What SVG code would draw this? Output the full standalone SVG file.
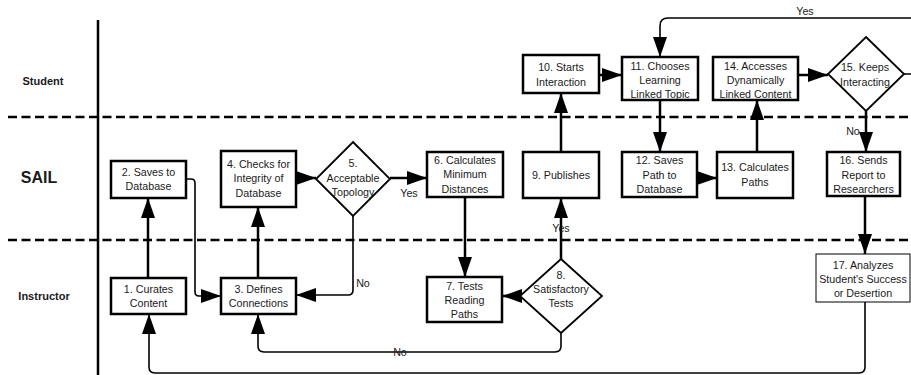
<svg xmlns="http://www.w3.org/2000/svg" width="911" height="375" viewBox="0 0 911 375">
<style>
text{font-family:"Liberation Sans",Arial,sans-serif;font-size:10.7px;fill:#1a1a1a;text-anchor:middle}
.lane{font-weight:bold;font-size:11px}
.big{font-weight:bold;font-size:16px}
.box{fill:#fff;stroke:#000;stroke-width:2.5}
.thin{fill:#fff;stroke:#000;stroke-width:1}
.dia{fill:#fff;stroke:#000;stroke-width:1.8}
.c{fill:none;stroke:#000;stroke-width:2.5;marker-end:url(#ah)}
.ct{fill:none;stroke:#000;stroke-width:1.6;marker-end:url(#ah)}
.cn{fill:none;stroke:#000;stroke-width:1.8}
.dash{stroke:#000;stroke-width:2.5;stroke-dasharray:9 4.5}
</style>
<defs>
<marker id="ah" markerUnits="userSpaceOnUse" markerWidth="20" markerHeight="14" refX="20" refY="7" orient="auto">
<path d="M0,0 L20,7 L0,14 z" fill="#000"/>
</marker>
</defs>
<rect width="911" height="375" fill="#fff"/>
<g id="lanes">
<line x1="98" y1="20" x2="98" y2="375" stroke="#000" stroke-width="2.5"/>
<line class="dash" x1="8" y1="117" x2="911" y2="117"/>
<line class="dash" x1="8" y1="240" x2="911" y2="240"/>
<text class="lane" x="43" y="85">Student</text>
<text class="big" x="39" y="183">SAIL</text>
<text class="lane" x="44" y="300">Instructor</text>
</g>
<g id="connectors">
<path class="c" d="M148,278 V198"/>
<path class="ct" d="M186,179 H191 Q195,179 195,183 V292 Q195,296 199,296 H221"/>
<path class="c" d="M258,278 V207"/>
<path class="c" d="M296,178 H316"/>
<path class="c" d="M390,178 H427"/>
<path class="ct" d="M353,216 V290 Q353,295 348,295 H296"/>
<path class="c" d="M465,197 V277"/>
<path class="c" d="M520,296 H502"/>
<path class="c" d="M561,259 V198"/>
<path class="ct" d="M561,333 V346 Q561,352 555,352 H264 Q258,352 258,346 V314"/>
<path class="c" d="M561,152 V93"/>
<path class="c" d="M599,75 H622"/>
<path class="c" d="M660,100 V152"/>
<path class="c" d="M697,178 H717"/>
<path class="c" d="M757,152 V100"/>
<path class="c" d="M798,75 H828"/>
<path class="ct" d="M904,74 H925 V18 H668 Q660,18 660,26 V57"/>
<path class="c" d="M866,111 V152"/>
<path class="c" d="M865,196 V254"/>
<path class="ct" d="M865,302 V367 Q865,373 859,373 H155 Q149,373 149,367 V314"/>
<text x="409" y="197">Yes</text>
<text x="561" y="232">Yes</text>
<text x="363" y="287">No</text>
<text x="400" y="356">No</text>
<text x="805" y="15">Yes</text>
<text x="853" y="135">No</text>
</g>
<g id="n1"><rect class="box" x="111" y="278" width="75" height="36"/><text x="148.5" y="293">1. Curates</text><text x="148.5" y="307">Content</text></g>
<g id="n2"><rect class="box" x="111" y="161" width="75" height="37"/><text x="148.5" y="176">2. Saves to</text><text x="148.5" y="190">Database</text></g>
<g id="n3"><rect class="box" x="221" y="278" width="75" height="36"/><text x="258.5" y="293">3. Defines</text><text x="258.5" y="307">Connections</text></g>
<g id="n4"><rect class="box" x="221" y="151" width="75" height="56"/><text x="258.5" y="168">4. Checks for</text><text x="258.5" y="182">Integrity of</text><text x="258.5" y="197">Database</text></g>
<g id="n5"><polygon class="dia" points="353,142 390,179 353,216 316,179"/><text x="353" y="167">5.</text><text x="353" y="182">Acceptable</text><text x="353" y="196">Topology</text></g>
<g id="n6"><rect class="box" x="427" y="152" width="76" height="45"/><text x="465" y="164">6. Calculates</text><text x="465" y="178">Minimum</text><text x="465" y="193">Distances</text></g>
<g id="n7"><rect class="box" x="427" y="277" width="75" height="45"/><text x="464.5" y="290">7. Tests</text><text x="464.5" y="304">Reading</text><text x="464.5" y="318">Paths</text></g>
<g id="n8"><polygon class="dia" points="561,259 602,296 561,333 520,296"/><text x="561" y="279">8.</text><text x="561" y="293">Satisfactory</text><text x="561" y="307">Tests</text></g>
<g id="n9"><rect class="box" x="523" y="152" width="76" height="46"/><text x="561" y="179">9. Publishes</text></g>
<g id="n10"><rect class="box" x="523" y="55" width="76" height="38"/><text x="561" y="71">10. Starts</text><text x="561" y="86">Interaction</text></g>
<g id="n11"><rect class="box" x="622" y="57" width="76" height="43"/><text x="660" y="70">11. Chooses</text><text x="660" y="84">Learning</text><text x="660" y="98">Linked Topic</text></g>
<g id="n12"><rect class="box" x="622" y="152" width="75" height="45"/><text x="659.5" y="164">12. Saves</text><text x="659.5" y="179">Path to</text><text x="659.5" y="193">Database</text></g>
<g id="n13"><rect class="box" x="717" y="152" width="76" height="46"/><text x="755" y="171">13. Calculates</text><text x="755" y="186">Paths</text></g>
<g id="n14"><rect class="box" x="713" y="57" width="85" height="43"/><text x="755.5" y="70">14. Accesses</text><text x="755.5" y="84">Dynamically</text><text x="755.5" y="98">Linked Content</text></g>
<g id="n15"><polygon class="dia" points="866,37 904,74 866,111 828,74"/><text x="865" y="71">15. Keeps</text><text x="865" y="86">Interacting</text></g>
<g id="n16"><rect class="box" x="827" y="152" width="73" height="44"/><text x="863.5" y="164">16. Sends</text><text x="863.5" y="179">Report to</text><text x="863.5" y="193">Researchers</text></g>
<g id="n17"><rect class="thin" x="816" y="254" width="94" height="48"/><text x="863" y="269">17. Analyzes</text><text x="863" y="283">Student's Success</text><text x="863" y="297">or Desertion</text></g>
</svg>
